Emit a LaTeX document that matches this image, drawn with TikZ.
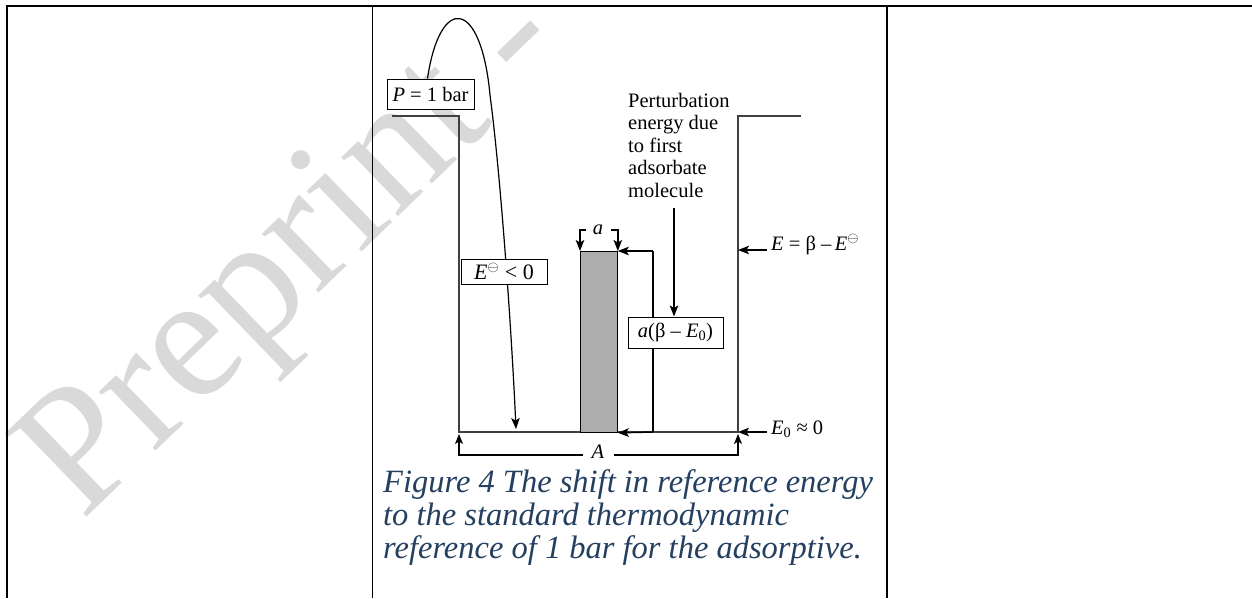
\documentclass[tikz,border=0pt]{standalone}
\usepackage{fontspec}
\setmainfont{Liberation Serif}
\usetikzlibrary{arrows.meta}
\definecolor{capblue}{HTML}{243F60}
\newcommand\dfont{\fontsize{20.5}{22.4}\selectfont}
\newcommand\capfont{\fontsize{32.5}{33}\selectfont\itshape}
\begin{document}
\begin{tikzpicture}[x=1pt,y=-1pt,
  frame/.style={line width=1.7pt, black},
  wall/.style={line width=1.1pt, black!75},
  thin/.style={line width=1.2pt, black},
  arr/.style={line width=1.5pt, black, -{Stealth[length=11pt,width=8.5pt,inset=2.5pt]}},
  lbl/.style={draw, line width=1pt, fill=white, inner xsep=3pt, inner ysep=0pt, font=\dfont},
  txt/.style={inner sep=0pt, font=\dfont}]
\useasboundingbox (0,0) rectangle (1252,598);
% watermark
\node[rotate=44, anchor=base west, inner sep=0pt, text=black!15,
      font=\fontsize{178}{178}\selectfont] (wm) at (82,522) {Preprint -};
% table lines
\draw[frame] (5.8,6) -- (1252,6);
\draw[frame] (6.7,6) -- (6.7,598);
\draw[frame] (372.5,6) -- (372.5,598);
\draw[frame] (887,6) -- (887,598);
% well
\coordinate (lt) at (392,116);
\coordinate (lc) at (459,116);
\coordinate (lb) at (459,432);
\coordinate (rb) at (738,432);
\coordinate (rc) at (738,116);
\coordinate (rt) at (801,116);
\draw[wall] (lt) -- (lc) -- (lb) -- (rb) -- (rc) -- (rt);
% P box and curve
\node[lbl, minimum width=87pt, minimum height=30pt] (p) at (430.5,94) {\textit{P} = 1 bar};
\coordinate (cv) at (490,95);
\coordinate (ct) at (516,429);
\draw[thin] ([xshift=-3pt]p.north) .. controls (440,-6) and (481,-2) .. (cv);
\draw[arr, line width=1.2pt] (cv) .. controls (500,170) and (511,320) .. (ct);
\node[lbl, minimum width=86pt, minimum height=25pt, font=\fontsize{22}{24}\selectfont] (e) at (504,271.5) {\textit{E}$^{\ominus}$ < 0};
% shaded bar
\node[draw, line width=0.8pt, fill=black!32, minimum width=37pt, minimum height=181pt,
      inner sep=0pt, anchor=north west] (bar) at (580,251) {};
\node[txt, font=\dfont\itshape] (al) at (598,230) {a};
\draw[arr] (586,230) -| (bar.north west);
\draw[arr] (611,230) -| (bar.north east);
% right bracket
\coordinate (bt) at (653,251);
\coordinate (bb) at (653,432);
\draw[thin] (bt) -- (bb);
\draw[arr] (bt) -- (bar.north east);
\draw[arr] (bb) -- (bar.south east);
\node[lbl, minimum width=95pt, minimum height=31pt] (ab) at (675.5,332.5) {\textit{a}(β – \textit{E}\textsubscript{0})};
% perturbation text
\node[txt, anchor=north west, align=left] (pt) at (628,93)
  {Perturbation\\energy due\\to first\\adsorbate\\molecule};
\coordinate (pa) at (674,208);
\draw[arr] (pa) -- (pa |- ab.north);
% energy labels
\node[txt, anchor=base west] (el) at (771,250) {\textit{E} = β –\,\textit{E}$^{\ominus}$};
\coordinate (ea) at (767,250);
\draw[arr] (ea) -- (ea -| rb);
\node[txt, anchor=base west] (e0) at (771,434) {\textit{E}\textsubscript{0} ≈ 0};
\coordinate (eb) at (767,432);
\draw[arr] (eb) -- (rb);
% dimension A
\node[txt, font=\dfont\itshape] (A) at (598,452) {A};
\draw[thin, -{Stealth[length=10pt,width=8pt,inset=2.5pt]}] (583,455) -| ([yshift=-2pt]lb);
\draw[thin, -{Stealth[length=10pt,width=8pt,inset=2.5pt]}] (614,455) -| ([yshift=-2pt]rb);
% caption
\node[anchor=base west, inner sep=0pt, font=\capfont, text=capblue] (c1) at (383,492) {Figure 4 The shift in reference energy};
\node[anchor=base west, inner sep=0pt, font=\capfont, text=capblue] (c2) at (383,525) {to the standard thermodynamic};
\node[anchor=base west, inner sep=0pt, font=\capfont, text=capblue] (c3) at (383,558) {reference of 1 bar for the adsorptive.};
\end{tikzpicture}
\end{document}
